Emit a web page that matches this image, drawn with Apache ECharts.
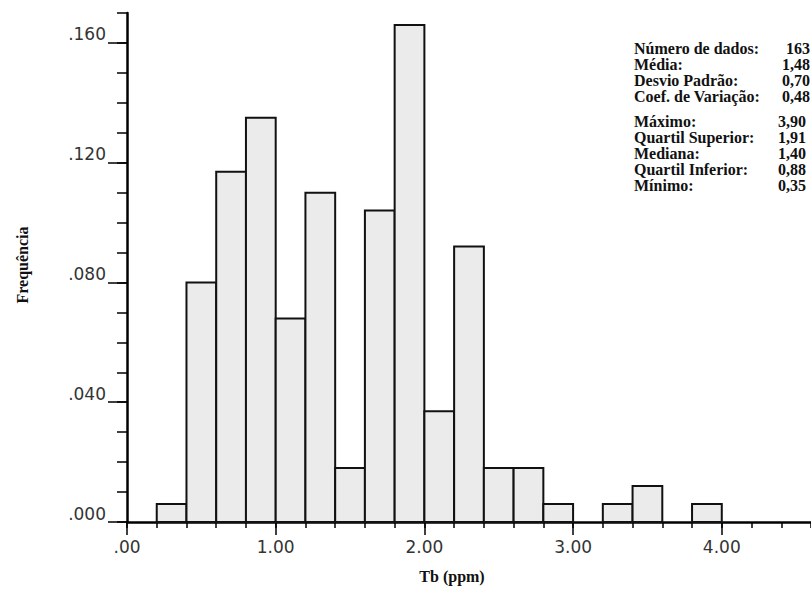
<!DOCTYPE html>
<html>
<head>
<meta charset="utf-8">
<script src="https://cdn.jsdelivr.net/npm/echarts@6/dist/echarts.min.js"></script>
<style>
  html, body { margin: 0; padding: 0; background: #fff; }
  #chart { width: 811px; height: 594px; }
</style>
</head>
<body>
<div id="chart"></div>
<script>
// histogram bins (lower edge, ppm) and relative frequency
const binStarts = [0.2, 0.4, 0.6, 0.8, 1.0, 1.2, 1.4, 1.6, 1.8, 2.0, 2.2, 2.4, 2.6, 2.8, 3.0, 3.2, 3.4, 3.6, 3.8];
const frequencies = [0.006, 0.080, 0.117, 0.135, 0.068, 0.110, 0.018, 0.104, 0.166, 0.037, 0.092, 0.018, 0.018, 0.006, 0, 0.006, 0.012, 0, 0.006];
const binWidth = 0.2;

const xTickLabels = [0, 1, 2, 3, 4];
const yTickLabels = [0, 0.04, 0.08, 0.12, 0.16];

const statNames1 = ['Número de dados:', 'Média:', 'Desvio Padrão:', 'Coef. de Variação:'];
const statValues1 = ['163', '1,48', '0,70', '0,48'];
const statNames2 = ['Máximo:', 'Quartil Superior:', 'Mediana:', 'Quartil Inferior:', 'Mínimo:'];
const statValues2 = ['3,90', '1,91', '1,40', '0,88', '0,35'];

const serif = '"Liberation Serif", "Times New Roman", serif';
const sans = '"DejaVu Sans", Arial, sans-serif';

const xMax = 4.6, yMax = 0.17;
const plotLeft = 127, plotTop = 13, plotBottom = 72, W = 811, H = 594;

const histData = binStarts.map((s, i) => [s, s + binWidth, frequencies[i]]);

function statTexts() {
  const els = [];
  const blocks = [
    { names: statNames1, values: statValues1, y0: 48, right: 810 },
    { names: statNames2, values: statValues2, y0: 121, right: 806 }
  ];
  blocks.forEach(b => {
    b.names.forEach((n, i) => {
      const y = b.y0 + i * 16;
      els.push({
        type: 'text', x: 634, y: y,
        style: { text: n, fill: '#111', font: 'bold 16px ' + serif, lineHeight: 14, textAlign: 'left', textVerticalAlign: 'middle' }
      });
      els.push({
        type: 'text', x: b.right, y: y,
        style: { text: b.values[i], fill: '#111', font: 'bold 16px ' + serif, lineHeight: 14, textAlign: 'right', textVerticalAlign: 'middle' }
      });
    });
  });
  return els;
}

const xFmt = v => (v === 0 ? '.00' : v.toFixed(2));
const yFmt = v => v.toFixed(3).replace(/^0/, '');

// second grid only carries the long major ticks (0..4 and 0..0.16) on the same scale
const plotW = W - plotLeft, plotH = H - plotTop - plotBottom;
const majorRight = W - plotLeft - plotW * 4 / xMax;
const majorTop = plotTop + plotH * (yMax - 0.16) / yMax;

const chart = echarts.init(document.getElementById('chart'), null, { renderer: 'svg' });

const option = {
  backgroundColor: '#fff',
  animation: false,
  grid: [
    { left: plotLeft, right: 0, top: plotTop, bottom: plotBottom },
    { left: plotLeft, right: majorRight, top: majorTop, bottom: plotBottom }
  ],
  xAxis: [
    {
      type: 'value', gridIndex: 0, min: 0, max: xMax, interval: 0.2,
      axisLine: { lineStyle: { color: '#000', width: 2.5 } },
      axisTick: { length: 6, lineStyle: { color: '#000', width: 1.5 } },
      axisLabel: { customValues: xTickLabels, formatter: xFmt, fontSize: 17, fontFamily: sans, color: '#333', margin: 16 },
      splitLine: { show: false }
    },
    {
      type: 'value', gridIndex: 1, min: 0, max: 4, interval: 1,
      axisLine: { show: false },
      axisTick: { length: 13, lineStyle: { color: '#000', width: 1.5 } },
      axisLabel: { show: false },
      splitLine: { show: false }
    }
  ],
  yAxis: [
    {
      type: 'value', gridIndex: 0, min: 0, max: yMax, interval: 0.01,
      axisLine: { show: true, lineStyle: { color: '#000', width: 2.5 } },
      axisTick: { show: true, length: 10, lineStyle: { color: '#000', width: 1.5 } },
      axisLabel: { customValues: yTickLabels, formatter: yFmt, fontSize: 17, fontFamily: sans, color: '#333', margin: 21, verticalAlign: 'bottom', lineHeight: 17 },
      splitLine: { show: false }
    },
    {
      type: 'value', gridIndex: 1, min: 0, max: 0.16, interval: 0.04,
      axisLine: { show: false },
      axisTick: { show: true, length: 19, lineStyle: { color: '#000', width: 1.5 } },
      axisLabel: { show: false },
      splitLine: { show: false }
    }
  ],
  graphic: [
    {
      type: 'text', x: 452, y: 576,
      style: { text: 'Tb (ppm)', fill: '#111', font: 'bold 16px ' + serif, textAlign: 'center', textVerticalAlign: 'middle' }
    },
    {
      type: 'text', x: 22, y: 265, rotation: Math.PI / 2,
      style: { text: 'Frequência', fill: '#111', font: 'bold 16px ' + serif, textAlign: 'center', textVerticalAlign: 'middle' }
    }
  ].concat(statTexts()),
  series: [
    {
      type: 'custom',
      xAxisIndex: 0,
      yAxisIndex: 0,
      data: histData,
      renderItem: function (params, api) {
        const h = api.value(2);
        if (!h) return null;
        const p0 = api.coord([api.value(0), h]);
        const p1 = api.coord([api.value(1), 0]);
        return {
          type: 'rect',
          shape: { x: p0[0], y: p0[1], width: p1[0] - p0[0], height: p1[1] - p0[1] },
          style: { fill: '#ebebeb', stroke: '#111', lineWidth: 2 }
        };
      },
      encode: { x: [0, 1], y: 2 },
      z: 1
    }
  ]
};

chart.setOption(option);
</script>
</body>
</html>
